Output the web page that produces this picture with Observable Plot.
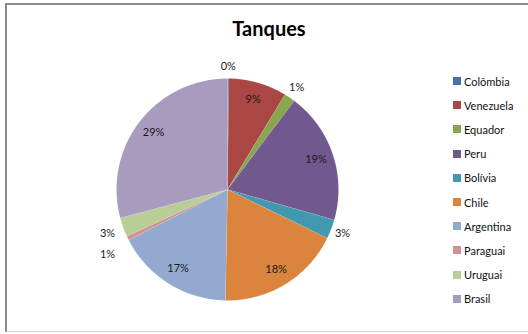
<!DOCTYPE html>
<html>
<head>
<meta charset="utf-8">
<script src="https://cdn.jsdelivr.net/npm/d3@7"></script>
<script src="https://cdn.jsdelivr.net/npm/@observablehq/plot@0.6"></script>
<style>
  html, body { margin: 0; padding: 0; background: #fff; }
  #wrap { position: relative; width: 528px; height: 334px; overflow: hidden; font-family: Lato, "Open Sans", sans-serif; }
  #frame { position: absolute; left: 5px; top: 3px; width: 530px; height: 329px; border-top: 2px solid #8c8c8c; border-left: 2px solid #8c8c8c; border-bottom: 1px solid #cfcfcf; box-sizing: border-box; }
  #title { position: absolute; left: 5px; width: 528px; top: 18px; text-align: center; font-weight: bold; font-size: 20px; line-height: 20px; color: #000; }
  #chart { position: absolute; left: 0; top: 0; }
  #legend { position: absolute; left: 453px; top: 69px; }
  .row { height: 24.2px; display: flex; align-items: center; font-size: 11px; color: #111; }
  .sw { width: 8px; height: 8px; margin-right: 3px; }
</style>
</head>
<body>
<div id="wrap">
  <div id="frame"></div>
  <div id="chart"></div>
  <div id="title">Tanques</div>
  <div id="legend"></div>
</div>
<script>
const countries = ["Colômbia","Venezuela","Equador","Peru","Bolívia","Chile","Argentina","Paraguai","Uruguai","Brasil"];
const values = [0.2, 8.5, 1.6, 19.2, 2.8, 18.1, 17.2, 0.6, 2.8, 29.2];
const labels = ["0%","9%","1%","19%","3%","18%","17%","1%","3%","29%"];
const colors = ["#4572A7","#AA4643","#89A54E","#71588F","#4198AF","#DB843D","#93A9CF","#D19392","#B9CD96","#A99BBD"];

const total = d3.sum(values);
let acc = 0;
const slices = values.map((v, i) => {
  const a0 = acc / total * 2 * Math.PI;
  acc += v;
  const a1 = acc / total * 2 * Math.PI;
  return {name: countries[i], value: v, label: labels[i], color: colors[i], a0, a1, mid: (a0 + a1) / 2};
});

function polygon(s) {
  const pts = [{x: 0, y: 0}];
  const n = Math.max(2, Math.ceil((s.a1 - s.a0) / 0.01));
  for (let k = 0; k <= n; k++) {
    const a = s.a0 + (s.a1 - s.a0) * k / n;
    pts.push({x: Math.sin(a), y: Math.cos(a)});
  }
  pts.push({x: 0, y: 0});
  return pts;
}

// label positions
const labelPts = slices.map(s => {
  const outside = s.value < 4;
  const r = outside ? (Math.sin(s.mid) < 0 ? 1.15 : 1.11) : 0.84;
  return {label: s.label, x: r * Math.sin(s.mid), y: r * Math.cos(s.mid), outside};
});
// simple collision resolution for outside labels on the left
const outs = labelPts.filter(d => d.outside && d.x < 0).sort((a, b) => b.y - a.y);
for (let k = 1; k < outs.length; k++) {
  if (outs[k - 1].y - outs[k].y < 0.19) {
    outs[k].y = outs[k - 1].y - 0.19;
    outs[k].x = Math.min(outs[k].x, outs[k - 1].x);
  }
}

const marks = slices.map(s => Plot.line(polygon(s), {x: "x", y: "y", fill: s.color, stroke: "#ffffff", strokeWidth: 0.3, strokeOpacity: 0.35}));
marks.push(Plot.text(labelPts, {x: "x", y: "y", text: "label", fontSize: 11, fill: "#1a1a1a"}));

const plot = Plot.plot({
  width: 528,
  height: 334,
  marginLeft: 116,
  marginRight: 190,
  marginTop: 78,
  marginBottom: 34,
  x: {domain: [-1, 1], axis: null},
  y: {domain: [-1, 1], axis: null},
  style: {fontFamily: "Lato, 'Open Sans', sans-serif", background: "transparent"},
  marks
});
document.getElementById("chart").appendChild(plot);

const legend = document.getElementById("legend");
countries.forEach((c, i) => {
  const row = document.createElement("div");
  row.className = "row";
  const sw = document.createElement("div");
  sw.className = "sw";
  sw.style.background = colors[i];
  const t = document.createElement("span");
  t.textContent = c;
  row.appendChild(sw);
  row.appendChild(t);
  legend.appendChild(row);
});
</script>
</body>
</html>
